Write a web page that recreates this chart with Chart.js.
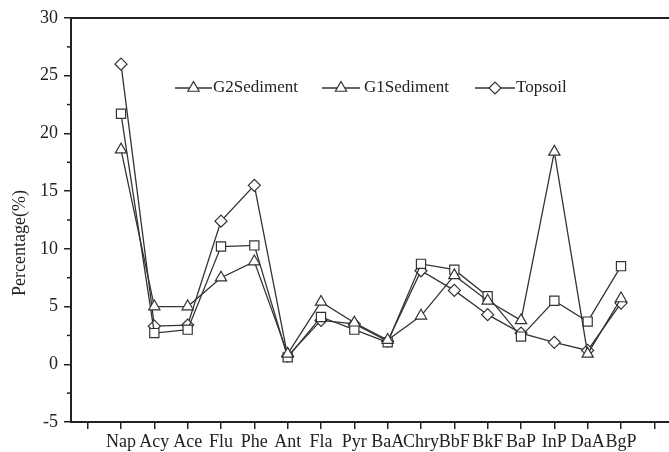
<!DOCTYPE html>
<html>
<head>
<meta charset="utf-8">
<script src="https://cdn.jsdelivr.net/npm/chart.js@4.4.1/dist/chart.umd.min.js"></script>
<style>
  html, body { margin: 0; padding: 0; background: #fff; overflow: hidden; }
</style>
</head>
<body>
<canvas id="pahChart" width="680" height="452"></canvas>
<script>
// PAH profiles (percentage of total)
const categories = ["Nap", "Acy", "Ace", "Flu", "Phe", "Ant", "Fla", "Pyr", "BaA", "Chry", "BbF", "BkF", "BaP", "InP", "DaA", "BgP"];
const g2Sediment = [18.6, 5.0, 5.0, 7.5, 8.9, 0.9, 5.4, 3.6, 2.1, 4.2, 7.7, 5.5, 3.8, 18.4, 0.9, 5.7];
const g1Sediment = [21.7, 2.7, 3.0, 10.2, 10.3, 0.6, 4.1, 3.0, 1.9, 8.7, 8.2, 5.9, 2.4, 5.5, 3.7, 8.5];
const topsoil = [26.0, 3.3, 3.4, 12.4, 15.5, 0.7, 3.8, 3.5, 2.0, 8.1, 6.4, 4.3, 2.7, 1.9, 1.2, 5.3];
const yTicks = [-5, 0, 5, 10, 15, 20, 25, 30];

const ink = "#222";
const serif = "'Liberation Serif', 'Times New Roman', serif";

// empty slot at each end, like the original axis
const xLabels = ["", ...categories, ""];
const pad = arr => [null, ...arr, null];

function series(label, values, style, radius) {
  return {
    label: label,
    data: pad(values),
    borderColor: "#333",
    borderWidth: 1.3,
    pointStyle: style,
    pointRadius: radius,
    pointBorderColor: "#333",
    pointBackgroundColor: "#fff",
    pointBorderWidth: 1.2,
    tension: 0,
    fill: false,
  };
}

// frame, minor ticks, legend and y title
const extras = {
  id: "extras",
  afterDraw(chart) {
    const ctx = chart.ctx;
    const area = chart.chartArea;
    const y = chart.scales.y;
    ctx.save();
    ctx.strokeStyle = ink;
    ctx.lineWidth = 2;
    ctx.beginPath();
    ctx.moveTo(area.left, area.top);
    ctx.lineTo(area.right, area.top);
    ctx.stroke();

    ctx.lineWidth = 1.5;
    for (let i = 0; i < yTicks.length - 1; i++) {
      const py = y.getPixelForValue((yTicks[i] + yTicks[i + 1]) / 2);
      ctx.beginPath();
      ctx.moveTo(area.left - 4, py);
      ctx.lineTo(area.left, py);
      ctx.stroke();
    }

    // legend (the original shows a triangle for G1Sediment too)
    const items = [
      { text: "G2Sediment", style: "triangle", r: 6.5, x0: 175, x1: 212, tx: 213 },
      { text: "G1Sediment", style: "triangle", r: 6.5, x0: 322, x1: 360, tx: 364 },
      { text: "Topsoil", style: "rectRot", r: 6, x0: 475, x1: 515, tx: 516 },
    ];
    const ly = 88;
    ctx.font = "17px " + serif;
    ctx.textBaseline = "middle";
    ctx.textAlign = "left";
    items.forEach(it => {
      ctx.strokeStyle = "#333";
      ctx.lineWidth = 1.3;
      ctx.beginPath();
      ctx.moveTo(it.x0, ly);
      ctx.lineTo(it.x1, ly);
      ctx.stroke();
      ctx.fillStyle = "#fff";
      ctx.lineWidth = 1.2;
      Chart.helpers.drawPoint(ctx, { pointStyle: it.style, radius: it.r, rotation: 0, borderWidth: 1.2 }, (it.x0 + it.x1) / 2, ly);
      ctx.fillStyle = ink;
      ctx.fillText(it.text, it.tx, ly);
    });

    ctx.translate(20, 243);
    ctx.rotate(-Math.PI / 2);
    ctx.textAlign = "center";
    ctx.font = "18px " + serif;
    ctx.fillText("Percentage(%)", 0, 0);
    ctx.restore();
  },
};

const ctx = document.getElementById("pahChart").getContext("2d");
const pahChart = new Chart(ctx, {
  type: "line",
  data: {
    labels: xLabels,
    datasets: [
      series("G2Sediment", g2Sediment, "triangle", 6.5),
      series("G1Sediment", g1Sediment, "rect", 6.5),
      series("Topsoil", topsoil, "rectRot", 6),
    ],
  },
  options: {
    responsive: false,
    animation: false,
    devicePixelRatio: 1,
    layout: { padding: { left: 0, right: 9, top: 18, bottom: 0 } },
    plugins: {
      legend: { display: false },
      tooltip: { enabled: false },
    },
    scales: {
      x: {
        type: "category",
        offset: true,
        border: { color: ink, width: 2 },
        grid: { offset: false, drawOnChartArea: false, tickLength: 7, color: ink, lineWidth: 1.5 },
        ticks: { autoSkip: false, maxRotation: 0, color: ink, padding: 2, font: { family: serif, size: 18 } },
        afterFit: s => { s.height = 30; },
      },
      y: {
        min: -5,
        max: 30,
        border: { color: ink, width: 2 },
        grid: { drawOnChartArea: false, tickLength: 7, color: ink, lineWidth: 1.5 },
        ticks: { stepSize: 5, color: ink, padding: 6, font: { family: serif, size: 18 } },
        afterFit: s => { s.width = 71; },
      },
    },
  },
  plugins: [extras],
});
</script>
</body>
</html>
